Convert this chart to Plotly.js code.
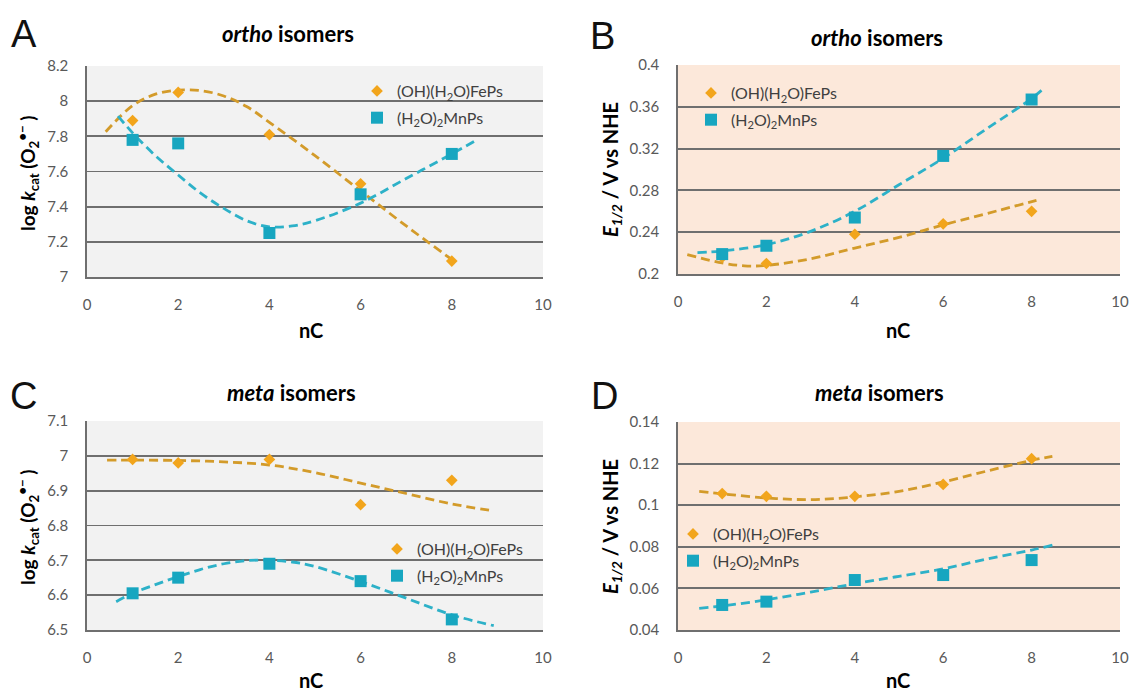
<!DOCTYPE html>
<html>
<head>
<meta charset="utf-8">
<script src="https://cdn.plot.ly/plotly-3.0.1.min.js"></script>
<style>
  html, body { margin: 0; padding: 0; background: #ffffff; }
  #chart { width: 1133px; height: 693px; }
</style>
</head>
<body>
<div id="chart"></div>
<script>
// ---------------- data ----------------
const nC = [1, 2, 4, 6, 8];

// Panel A: ortho isomers, log kcat
const feOrthoKcat = [7.89, 8.05, 7.81, 7.53, 7.09];
const mnOrthoKcat = [7.78, 7.76, 7.25, 7.47, 7.70];
const feOrthoKcatTrendX = [0.41, 1, 1.5, 2, 2.5, 3, 3.5, 4, 5, 6, 7, 8.1];
const feOrthoKcatTrendY = [7.826, 7.975, 8.04, 8.063, 8.06, 8.03, 7.97, 7.88, 7.69, 7.49, 7.29, 7.08];
const mnOrthoKcatTrendX = [0.68, 1, 1.5, 2, 2.5, 3, 3.5, 4, 4.5, 5, 6, 7, 8, 8.55];
const mnOrthoKcatTrendY = [7.915, 7.82, 7.69, 7.58, 7.475, 7.39, 7.32, 7.285, 7.29, 7.32, 7.42, 7.56, 7.70, 7.78];

// Panel B: ortho isomers, E1/2
const feOrthoE = [0.216, 0.210, 0.238, 0.248, 0.260];
const mnOrthoE = [0.219, 0.227, 0.254, 0.313, 0.367];
const feOrthoETrendX = [0.21, 1, 1.5, 2, 3, 4, 5, 6, 7, 8.11];
const feOrthoETrendY = [0.2185, 0.2105, 0.2078, 0.2082, 0.2145, 0.2248, 0.235, 0.247, 0.258, 0.2704];
const mnOrthoETrendX = [0.44, 1, 2, 3, 4, 5, 6, 7, 8, 8.3];
const mnOrthoETrendY = [0.2204, 0.222, 0.228, 0.2408, 0.26, 0.2854, 0.3108, 0.3395, 0.368, 0.3786];

// Panel C: meta isomers, log kcat
const feMetaKcat = [6.99, 6.98, 6.99, 6.86, 6.93];
const mnMetaKcat = [6.605, 6.65, 6.69, 6.64, 6.53];
const feMetaKcatTrendX = [0.44, 1, 2, 3, 4, 5, 6, 7, 8, 8.92];
const feMetaKcatTrendY = [6.988, 6.988, 6.987, 6.983, 6.974, 6.952, 6.922, 6.892, 6.862, 6.842];
const mnMetaKcatTrendX = [0.64, 1, 1.5, 2, 2.5, 3, 3.5, 4, 4.5, 5, 6, 7, 8, 8.92];
const mnMetaKcatTrendY = [6.581, 6.605, 6.63, 6.653, 6.674, 6.69, 6.699, 6.70, 6.695, 6.682, 6.639, 6.591, 6.543, 6.512];

// Panel D: meta isomers, E1/2
const feMetaE = [0.1056, 0.1043, 0.1043, 0.110, 0.1224];
const mnMetaE = [0.052, 0.0536, 0.064, 0.0664, 0.0736];
const feMetaETrendX = [0.48, 1, 2, 3, 4, 5, 6, 7, 8, 8.47];
const feMetaETrendY = [0.1067, 0.1055, 0.1035, 0.1027, 0.104, 0.1067, 0.1112, 0.1165, 0.1216, 0.1235];
const mnMetaETrendX = [0.48, 1, 2, 3, 4, 5, 6, 7, 8, 8.47];
const mnMetaETrendY = [0.0504, 0.0515, 0.0545, 0.0582, 0.0622, 0.0658, 0.0694, 0.0742, 0.0784, 0.0808];

// tick values / labels
const xTickVals = [0, 2, 4, 6, 8, 10];
const xTickText = ['0', '2', '4', '6', '8', '10'];
const kcatOrthoTickVals = [7, 7.2, 7.4, 7.6, 7.8, 8, 8.2];
const kcatOrthoTickText = ['7', '7.2', '7.4', '7.6', '7.8', '8', '8.2'];
const eOrthoTickVals = [0.2, 0.24, 0.28, 0.32, 0.36, 0.4];
const eOrthoTickText = ['0.2', '0.24', '0.28', '0.32', '0.36', '0.4'];
const kcatMetaTickVals = [6.5, 6.6, 6.7, 6.8, 6.9, 7, 7.1];
const kcatMetaTickText = ['6.5', '6.6', '6.7', '6.8', '6.9', '7', '7.1'];
const eMetaTickVals = [0.04, 0.06, 0.08, 0.1, 0.12, 0.14];
const eMetaTickText = ['0.04', '0.06', '0.08', '0.1', '0.12', '0.14'];

const feName = '(OH)(H<sub>2</sub>O)FePs';
const mnName = '(H<sub>2</sub>O)<sub>2</sub>MnPs';

// ---------------- styles ----------------
const FONT = 'Lato, "Open Sans", "DejaVu Sans", sans-serif';
const FE_MARK = '#F2A51C';
const FE_LINE = '#D39B2A';
const MN_MARK = '#17A6C0';
const MN_LINE = '#2DB1C8';
const GRID = '#6F6F6F';
const GREY_BG = '#F2F2F2';
const PEACH_BG = '#FCE8DA';

const W = 1133, H = 693;
const px = v => v / W;
const py = v => 1 - v / H;

function pts(x, y, color, symbol, size, name, xa, ya, legend) {
  return {
    x: x, y: y, xaxis: xa, yaxis: ya, type: 'scatter', mode: 'markers',
    name: name, legend: legend, legendgroup: legend + name,
    marker: { color: color, symbol: symbol, size: size, line: { width: 0 } },
    hoverinfo: 'skip'
  };
}
function trend(x, y, color, xa, ya) {
  return {
    x: x, y: y, xaxis: xa, yaxis: ya, type: 'scatter', mode: 'lines',
    showlegend: false,
    line: { color: color, width: 2.8, dash: '9px,5px', shape: 'spline', smoothing: 1.0 },
    hoverinfo: 'skip'
  };
}

const data = [
  trend(feOrthoKcatTrendX, feOrthoKcatTrendY, FE_LINE, 'x', 'y'),
  trend(mnOrthoKcatTrendX, mnOrthoKcatTrendY, MN_LINE, 'x', 'y'),
  pts(nC, feOrthoKcat, FE_MARK, 'diamond', 9, feName, 'x', 'y', 'legend'),
  pts(nC, mnOrthoKcat, MN_MARK, 'square', 12, mnName, 'x', 'y', 'legend'),

  trend(feOrthoETrendX, feOrthoETrendY, FE_LINE, 'x2', 'y2'),
  trend(mnOrthoETrendX, mnOrthoETrendY, MN_LINE, 'x2', 'y2'),
  pts(nC, feOrthoE, FE_MARK, 'diamond', 9, feName, 'x2', 'y2', 'legend2'),
  pts(nC, mnOrthoE, MN_MARK, 'square', 12, mnName, 'x2', 'y2', 'legend2'),

  trend(feMetaKcatTrendX, feMetaKcatTrendY, FE_LINE, 'x3', 'y3'),
  trend(mnMetaKcatTrendX, mnMetaKcatTrendY, MN_LINE, 'x3', 'y3'),
  pts(nC, feMetaKcat, FE_MARK, 'diamond', 9, feName, 'x3', 'y3', 'legend3'),
  pts(nC, mnMetaKcat, MN_MARK, 'square', 12, mnName, 'x3', 'y3', 'legend3'),

  trend(feMetaETrendX, feMetaETrendY, FE_LINE, 'x4', 'y4'),
  trend(mnMetaETrendX, mnMetaETrendY, MN_LINE, 'x4', 'y4'),
  pts(nC, feMetaE, FE_MARK, 'diamond', 9, feName, 'x4', 'y4', 'legend4'),
  pts(nC, mnMetaE, MN_MARK, 'square', 12, mnName, 'x4', 'y4', 'legend4')
];

const tickFont = { family: FONT, size: 15, color: '#595959' };

function xAxis(domain, anchor) {
  return {
    domain: domain, anchor: anchor, range: [0, 10],
    tickmode: 'array', tickvals: xTickVals, ticktext: xTickText,
    showgrid: false, zeroline: false, showline: true, linecolor: GRID, linewidth: 1.8,
    ticks: '', ticklabelstandoff: 13, tickfont: tickFont, fixedrange: true
  };
}
function yAxis(domain, anchor, range, vals, text) {
  return {
    domain: domain, anchor: anchor, range: range,
    tickmode: 'array', tickvals: vals, ticktext: text,
    showgrid: true, gridcolor: GRID, gridwidth: 1.8,
    zeroline: false, showline: true, linecolor: GRID, linewidth: 1.8,
    ticks: '', ticklabelstandoff: 14, tickfont: tickFont, fixedrange: true
  };
}

const colL = [px(87), px(543)];
const colR = [px(678), px(1120)];
const rowT_A = [py(277), py(66)];
const rowT_B = [py(274), py(65)];
const rowB_C = [py(630), py(421)];
const rowB_D = [py(630), py(422)];

function legendAt(xPix, yPix) {
  return {
    x: px(xPix), y: py(yPix), xanchor: 'left', yanchor: 'top',
    bgcolor: 'rgba(0,0,0,0)', borderwidth: 0,
    font: { family: FONT, size: 16, color: '#404040' },
    itemwidth: 30, tracegroupgap: 3, itemclick: false, itemdoubleclick: false
  };
}

function bgRect(xref, yref, color) {
  return {
    type: 'rect', xref: xref + ' domain', yref: yref + ' domain',
    x0: 0, x1: 1, y0: 0, y1: 1, fillcolor: color, line: { width: 0 }, layer: 'below'
  };
}

function txt(xPix, yPix, text, size, opts) {
  return Object.assign({
    xref: 'paper', yref: 'paper', x: px(xPix), y: py(yPix),
    xanchor: 'center', yanchor: 'middle', showarrow: false, text: text,
    font: { family: FONT, size: size, color: '#000000' }
  }, opts || {});
}

const letterFont = { family: '"Liberation Sans", Arial, sans-serif', size: 38, color: '#111111' };
const kcatTitle = '<b>log <i>k</i><sub>cat</sub> (O<sub>2</sub><sup>•−</sup> )</b>';
const eTitle = '<b><i>E</i><sub><i>1/2</i></sub> / V vs NHE</b>';

const layout = {
  width: W, height: H,
  margin: { l: 0, r: 0, t: 0, b: 0 },
  paper_bgcolor: '#ffffff', plot_bgcolor: 'rgba(0,0,0,0)',
  font: { family: FONT },
  xaxis: xAxis(colL, 'y'),
  yaxis: yAxis(rowT_A, 'x', [6.9995, 8.2005], kcatOrthoTickVals, kcatOrthoTickText),
  xaxis2: xAxis(colR, 'y2'),
  yaxis2: yAxis(rowT_B, 'x2', [0.19995, 0.40005], eOrthoTickVals, eOrthoTickText),
  xaxis3: xAxis(colL, 'y3'),
  yaxis3: yAxis(rowB_C, 'x3', [6.4995, 7.1005], kcatMetaTickVals, kcatMetaTickText),
  xaxis4: xAxis(colR, 'y4'),
  yaxis4: yAxis(rowB_D, 'x4', [0.03995, 0.14005], eMetaTickVals, eMetaTickText),
  legend: legendAt(357, 74),
  legend2: legendAt(691, 76),
  legend3: legendAt(377, 532),
  legend4: legendAt(673, 517),
  shapes: [
    bgRect('x', 'y', GREY_BG),
    bgRect('x2', 'y2', PEACH_BG),
    bgRect('x3', 'y3', GREY_BG),
    bgRect('x4', 'y4', PEACH_BG)
  ],
  annotations: [
    // panel letters
    txt(24, 34, 'A', 38, { font: letterFont }),
    txt(602, 36, 'B', 38, { font: letterFont }),
    txt(23, 396, 'C', 38, { font: letterFont }),
    txt(604, 396, 'D', 38, { font: letterFont }),
    // panel titles
    txt(288, 33, '<b><i>ortho</i> isomers</b>', 22),
    txt(877, 37, '<b><i>ortho</i> isomers</b>', 22),
    txt(291, 392, '<b><i>meta</i> isomers</b>', 22),
    txt(879, 392, '<b><i>meta</i> isomers</b>', 22),
    // x titles
    txt(311, 330, '<b>nC</b>', 20),
    txt(898, 330, '<b>nC</b>', 20),
    txt(311, 680, '<b>nC</b>', 20),
    txt(898, 680, '<b>nC</b>', 20),
    // y titles
    txt(28, 173, kcatTitle, 19, { textangle: -90 }),
    txt(611, 170, eTitle, 20, { textangle: -90 }),
    txt(28, 527, kcatTitle, 19, { textangle: -90 }),
    txt(611, 527, eTitle, 20, { textangle: -90 })
  ]
};

Plotly.newPlot('chart', data, layout, { displayModeBar: false, staticPlot: true });
</script>
</body>
</html>
